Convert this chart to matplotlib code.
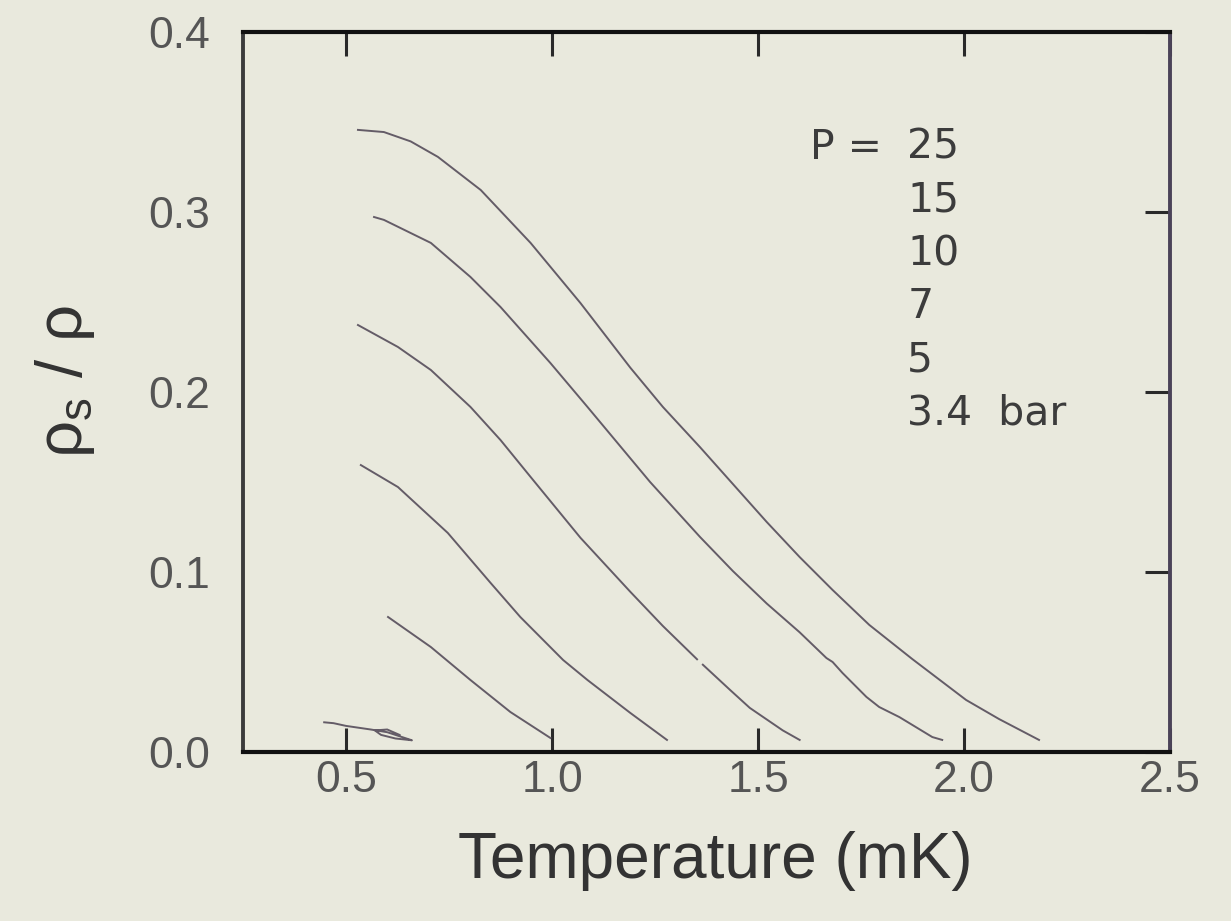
import numpy as np
import matplotlib
matplotlib.use("Agg")
import matplotlib.pyplot as plt
from matplotlib.ticker import FormatStrFormatter

plt.rcParams["font.family"] = ["Liberation Sans", "DejaVu Sans"]

# superfluid fraction traces: temperature (mK) vs rho_s/rho
T_25 = [0.529, 0.592, 0.657, 0.723, 0.827, 0.948, 1.069, 1.190, 1.269, 1.359,
        1.521, 1.601, 1.681, 1.770, 1.874, 2.005, 2.085, 2.182]
RS_25 = [0.3456, 0.3444, 0.3392, 0.3306, 0.3122, 0.2828, 0.2494, 0.2135, 0.1917,
         0.1694, 0.1278, 0.1083, 0.0900, 0.0706, 0.0517, 0.0289, 0.0183, 0.0067]

T_15 = [0.568, 0.592, 0.706, 0.802, 0.875, 0.996, 1.086, 1.238, 1.359, 1.439,
        1.521, 1.601, 1.666, 1.681, 1.705, 1.763, 1.794, 1.843, 1.923, 1.947]
RS_15 = [0.2972, 0.2956, 0.2828, 0.2639, 0.2472, 0.2161, 0.1917, 0.1500, 0.1195,
         0.1005, 0.0825, 0.0665, 0.0522, 0.0500, 0.0439, 0.0306, 0.0250, 0.0194,
         0.0083, 0.0067]

T_10 = [0.529, 0.626, 0.706, 0.802, 0.875, 0.948, 1.069, 1.190, 1.269, 1.352,
        np.nan, 1.366, 1.432, 1.480, 1.560, 1.601]
RS_10 = [0.2372, 0.2250, 0.2122, 0.1917, 0.1733, 0.1528, 0.1190, 0.0890, 0.0700,
         0.0515, np.nan, 0.0485, 0.0345, 0.0245, 0.0120, 0.0067]

T_7 = [0.536, 0.626, 0.747, 0.851, 0.923, 1.027, 1.086, 1.190, 1.279]
RS_7 = [0.1594, 0.1472, 0.1217, 0.0939, 0.0750, 0.0511, 0.0400, 0.0217, 0.0067]

T_5 = [0.602, 0.706, 0.802, 0.899, 0.996]
RS_5 = [0.0750, 0.0583, 0.0400, 0.0222, 0.0078]

T_34 = [0.447, 0.470, 0.500, 0.530, 0.560, 0.600, 0.640, 0.660, 0.620, 0.585,
        0.570, 0.600, 0.630]
RS_34 = [0.0165, 0.0160, 0.0145, 0.0135, 0.0125, 0.0110, 0.0080, 0.0065, 0.0075,
         0.0095, 0.0120, 0.0125, 0.0095]

CURVES = [(T_25, RS_25), (T_15, RS_15), (T_10, RS_10), (T_7, RS_7), (T_5, RS_5), (T_34, RS_34)]
P_LABELS = ["25", "15", "10", "7", "5", "3.4  bar"]

BG = "#e9e9dd"
LINE = "#645c67"

fig = plt.figure(figsize=(12.31, 9.21), dpi=100, facecolor=BG)
ax = fig.add_axes([0.1974, 0.1835, 0.7531, 0.7818], facecolor=BG)

for T, R in CURVES:
    ax.plot(T, R, color=LINE, lw=1.4, solid_joinstyle="round")

ax.set_xlim(0.25, 2.5)
ax.set_ylim(0, 0.4)
ax.set_xticks([0.5, 1.0, 1.5, 2.0, 2.5])
ax.set_yticks([0.0, 0.1, 0.2, 0.3, 0.4])
ax.xaxis.set_major_formatter(FormatStrFormatter("%.1f"))
ax.yaxis.set_major_formatter(FormatStrFormatter("%.1f"))
ax.tick_params(axis="x", direction="in", top=True, bottom=True, length=17, width=2.2,
               color="#2a2a2a", labelsize=32, labelcolor="#555555", pad=6)
ax.tick_params(axis="y", direction="in", left=False, right=True, labelleft=True,
               length=18, width=2.2, color="#2a2a2a", labelsize=32,
               labelcolor="#555555", pad=24)

for side in ["top", "bottom"]:
    ax.spines[side].set_linewidth(3.0)
    ax.spines[side].set_color("#111111")
ax.spines["left"].set_linewidth(2.8)
ax.spines["left"].set_color("#3c3c3c")
ax.spines["right"].set_linewidth(2.8)
ax.spines["right"].set_color("#4b4358")

ax.set_xlabel("Temperature (mK)", fontsize=46, color="#333333")
ax.xaxis.set_label_coords(0.509, -0.110)
ax.set_ylabel("ρ$_\\mathregular{s}$ / ρ", fontsize=47, color="#333333")
ax.yaxis.set_label_coords(-0.158, 0.515)

# pressure list, one row per trace
y0, dy = 0.3356, 0.0295
ax.text(1.802, y0, "P =", fontsize=29.5, color="#3c3c3c", ha="right", va="center",
        family="DejaVu Sans")
for i, lab in enumerate(P_LABELS):
    ax.text(1.862, y0 - i * dy, lab, fontsize=29.5, color="#3c3c3c", ha="left",
            va="center", family="DejaVu Sans")

fig.savefig("out.png", dpi=100, facecolor=BG)
